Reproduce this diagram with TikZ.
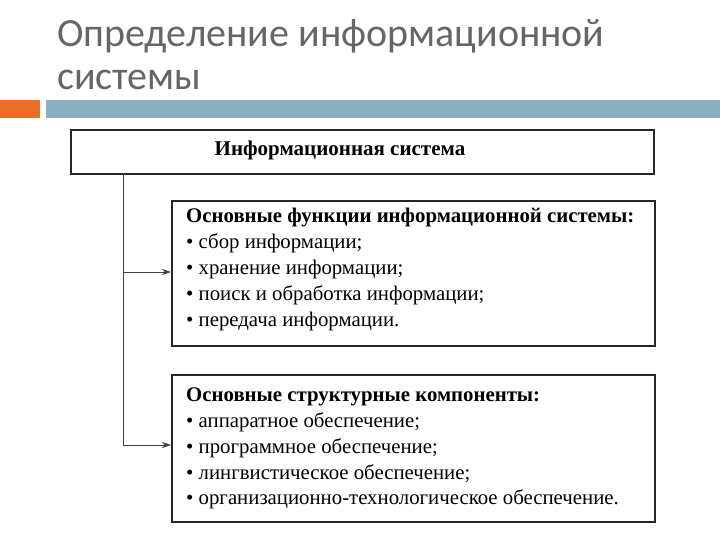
\documentclass[tikz,border=0pt]{standalone}
\usepackage{fontspec}
\setmainfont{Liberation Serif}
\newfontfamily\titlefont{Carlito}
\usetikzlibrary{arrows.meta}
\tikzset{box/.style={draw=black!85,line width=1.6pt,fill=white},
 txt/.style={anchor=west,inner sep=0pt,font=\fontsize{20.8}{22}\selectfont},
 hd/.style={txt,font=\fontsize{20.8}{22}\selectfont\bfseries},
 ttl/.style={anchor=west,inner sep=0pt,text=black!60,font=\titlefont\fontsize{40}{44}\selectfont},
 conn/.style={draw=black!75,line width=1pt},
 arr/.style={conn,-{Stealth[length=9pt,width=6pt]}}}
\begin{document}
\begin{tikzpicture}[x=1pt,y=-1pt]
\useasboundingbox[fill=white] (0,0) rectangle (720,540);
\node[ttl] (t1) at (57,36) {Определение информационной};
\node[ttl] (t2) at (57,80) {системы};
\fill[orange!75!red!90!black!85] (0,100) rectangle (40,118);
\fill[blue!35!cyan!30!gray!70] (46,100) rectangle (720,118);
\node[box,minimum width=583,minimum height=44,anchor=north west] (top) at (70,129) {};
\node[font=\fontsize{21}{22}\selectfont\bfseries,inner sep=0pt] (toplab) at (340,150) {Информационная система};
\node[box,minimum width=483,minimum height=145,anchor=north west] (b1) at (171,200) {};
\node[box,minimum width=483,minimum height=147,anchor=north west] (b2) at (171,374) {};
\node[hd] (h1) at (186,218) {Основные функции информационной системы:};
\node[txt] (a1) at (186,243) {• сбор информации;};
\node[txt] (a2) at (186,269) {• хранение информации;};
\node[txt] (a3) at (186,295) {• поиск и обработка информации;};
\node[txt] (a4) at (186,321) {• передача информации.};
\node[hd] (h2) at (186,397) {Основные структурные компоненты:};
\node[txt] (c1) at (186,422) {• аппаратное обеспечение;};
\node[txt] (c2) at (186,448) {• программное обеспечение;};
\node[txt] (c3) at (186,474) {• лингвистическое обеспечение;};
\node[txt] (c4) at (186,499) {• организационно-технологическое обеспечение.};
\coordinate (s) at (123,173);
\coordinate (j1) at (123,272);
\coordinate (j2) at (123,445);
\draw[conn] (s) -- (j2);
\draw[arr] (j1) -- (j1 -| b1.west);
\draw[arr] (j2) -- (j2 -| b2.west);
\end{tikzpicture}
\end{document}
